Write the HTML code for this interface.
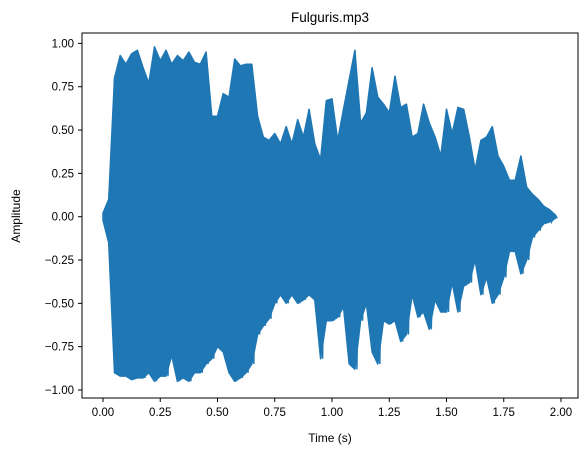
<!DOCTYPE html>
<html><head><meta charset="utf-8"><style>
body{margin:0;background:#fff;}
svg{display:block;font-family:"Liberation Sans","DejaVu Sans",sans-serif;}
</style></head><body>
<svg id="chart" width="587" height="453">
<text x="330" y="22" font-size="13.5" text-anchor="middle">Fulguris.mp3</text>
<text x="330" y="442" font-size="12" text-anchor="middle">Time (s)</text>
<text transform="translate(20,216) rotate(-90)" font-size="12" text-anchor="middle">Amplitude</text>
<g id="plot"></g>
<rect x="82" y="33" width="496" height="365" fill="none" stroke="#000" stroke-width="1"/>
<g id="xt"></g><g id="yt"></g>
</svg>
<script>
const binStep = 0.025;
const upperEnv = [0.02,0.1,0.8,0.93,0.88,0.94,0.96,0.86,0.77,0.98,0.9,0.96,0.88,0.93,0.9,0.95,0.89,0.88,0.95,0.58,0.58,0.71,0.69,0.91,0.87,0.88,0.88,0.58,0.46,0.44,0.48,0.42,0.52,0.42,0.56,0.46,0.62,0.42,0.33,0.67,0.68,0.44,0.62,0.79,0.96,0.54,0.6,0.86,0.69,0.65,0.6,0.81,0.63,0.65,0.46,0.48,0.65,0.54,0.46,0.35,0.62,0.48,0.63,0.62,0.46,0.27,0.44,0.46,0.52,0.35,0.29,0.21,0.21,0.35,0.17,0.13,0.1,0.06,0.04,0.01];
const lowerEnv = [-0.02,-0.15,-0.9,-0.92,-0.92,-0.94,-0.93,-0.93,-0.9,-0.95,-0.92,-0.92,-0.8,-0.95,-0.93,-0.95,-0.9,-0.9,-0.85,-0.82,-0.75,-0.78,-0.9,-0.95,-0.93,-0.9,-0.85,-0.68,-0.63,-0.59,-0.5,-0.45,-0.5,-0.45,-0.5,-0.48,-0.45,-0.48,-0.82,-0.6,-0.6,-0.58,-0.52,-0.85,-0.88,-0.6,-0.5,-0.78,-0.85,-0.6,-0.62,-0.6,-0.72,-0.68,-0.45,-0.58,-0.55,-0.65,-0.48,-0.55,-0.55,-0.38,-0.55,-0.4,-0.38,-0.25,-0.45,-0.35,-0.5,-0.45,-0.35,-0.2,-0.2,-0.33,-0.25,-0.12,-0.08,-0.04,-0.03,-0.01];
const xTicks = [0,0.25,0.5,0.75,1.0,1.25,1.5,1.75,2.0];
const xTickLabels = ["0.00","0.25","0.50","0.75","1.00","1.25","1.50","1.75","2.00"];
const yTicks = [-1,-0.75,-0.5,-0.25,0,0.25,0.5,0.75,1];
const yTickLabels = ["−1.00","−0.75","−0.50","−0.25","0.00","0.25","0.50","0.75","1.00"];

const NS="http://www.w3.org/2000/svg";
const xs = t => 103 + 229*t;
const ys = v => 216.7 - 173.3*v;
const plot = document.getElementById('plot');

let fill = "";
upperEnv.forEach((v,i)=>{ fill += (i?"L":"M")+xs(i*binStep).toFixed(1)+","+ys(v).toFixed(1); });
for(let i=lowerEnv.length-1;i>=0;i--){ fill += "L"+xs(i*binStep).toFixed(1)+","+ys(lowerEnv[i]).toFixed(1); }
fill += "Z";
const area = document.createElementNS(NS,'path');
area.setAttribute('d',fill);
area.setAttribute('fill','#1f77b4');
area.setAttribute('stroke','#1f77b4');
area.setAttribute('stroke-width','1.5');
area.setAttribute('stroke-linejoin','round');


plot.appendChild(area);

let zig = "";
upperEnv.forEach((v,i)=>{
  const x = xs(i*binStep);
  zig += (i?"L":"M")+x.toFixed(1)+","+ys(v).toFixed(1)+"L"+(x+2).toFixed(1)+","+ys(lowerEnv[i]).toFixed(1);
});
const line = document.createElementNS(NS,'path');
line.setAttribute('d',zig);
line.setAttribute('fill','none');
line.setAttribute('stroke','#1f77b4');
line.setAttribute('stroke-width','1.5');


plot.appendChild(line);

const xt = document.getElementById('xt');
xTicks.forEach((t,i)=>{
  const x = xs(t);
  const tk = document.createElementNS(NS,'line');
  tk.setAttribute('x1',x);tk.setAttribute('x2',x);tk.setAttribute('y1',398);tk.setAttribute('y2',402);
  tk.setAttribute('stroke','#000');
  
  
  xt.appendChild(tk);
  const lb = document.createElementNS(NS,'text');
  lb.setAttribute('x',x);lb.setAttribute('y',416);lb.setAttribute('font-size','11.5');lb.setAttribute('text-anchor','middle');
  lb.textContent = xTickLabels[i];
  
  
  xt.appendChild(lb);
});
const yt = document.getElementById('yt');
yTicks.forEach((v,i)=>{
  const y = ys(v);
  const tk = document.createElementNS(NS,'line');
  tk.setAttribute('x1',78);tk.setAttribute('x2',82);tk.setAttribute('y1',y);tk.setAttribute('y2',y);
  tk.setAttribute('stroke','#000');
  
  
  yt.appendChild(tk);
  const lb = document.createElementNS(NS,'text');
  lb.setAttribute('x',74);lb.setAttribute('y',y+4);lb.setAttribute('font-size','11.5');lb.setAttribute('text-anchor','end');
  lb.textContent = yTickLabels[i];
  
  
  yt.appendChild(lb);
});
</script>
</body></html>
